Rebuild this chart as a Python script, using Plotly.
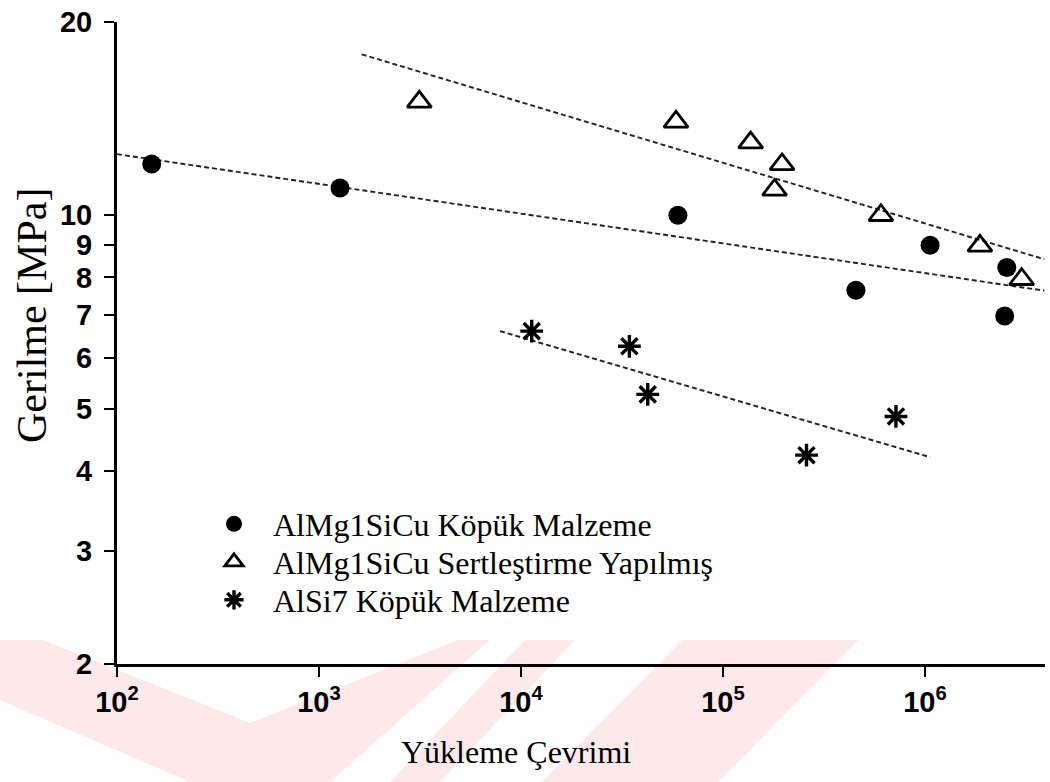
import plotly.graph_objects as go

# ---------------- data ----------------
circle_name = "AlMg1SiCu Köpük Malzeme"
circle_x = [148.5, 1271, 59.8e3, 455e3, 1.06e6, 2.54e6, 2.48e6]
circle_y = [12.02, 11.03, 10.0, 7.64, 8.98, 8.29, 6.97]

tri_name = "AlMg1SiCu Sertleştirme Yapılmış"
tri_x = [3137, 58.5e3, 137e3, 196e3, 180e3, 605e3, 1.87e6, 3.01e6]
tri_y = [15.02, 13.98, 12.98, 12.0, 10.95, 10.0, 8.96, 7.95]

star_name = "AlSi7 Köpük Malzeme"
star_x = [11.3e3, 34.4e3, 42.4e3, 718e3, 259e3]
star_y = [6.60, 6.25, 5.26, 4.86, 4.23]

# trend lines (end points)
circle_fit_x = [100, 3.9e6]
circle_fit_y = [12.45, 7.63]
tri_fit_x = [1627, 3.9e6]
tri_fit_y = [17.81, 8.54]
star_fit_x = [7870, 1.06e6]
star_fit_y = [6.60, 4.20]

x_tickvals = [1e2, 1e3, 1e4, 1e5, 1e6]
x_ticktext = ["10<sup>2</sup>", "10<sup>3</sup>", "10<sup>4</sup>", "10<sup>5</sup>", "10<sup>6</sup>"]
y_tickvals = [2, 3, 4, 5, 6, 7, 8, 9, 10, 20]
y_ticktext = ["2", "3", "4", "5", "6", "7", "8", "9", "10", "20"]

x_title = "Yükleme Çevrimi"
y_title = "Gerilme [MPa]"

# ---------------- layout geometry ----------------
W, H = 1050, 782
ML, MR, MT, MB = 117, 5, 22, 118
PW, PH = W - ML - MR, H - MT - MB


def px2paper(px, py):
    return (px - ML) / PW, 1 - (py - MT) / PH


SERIF = "Liberation Serif, Times New Roman, serif"
SANS = "Liberation Sans, Arial, sans-serif"

fig = go.Figure()

dash = "5px,3px"
for fx, fy in [(circle_fit_x, circle_fit_y), (tri_fit_x, tri_fit_y), (star_fit_x, star_fit_y)]:
    fig.add_trace(go.Scatter(x=fx, y=fy, mode="lines", showlegend=False,
                             line=dict(color="#222222", width=1.9, dash=dash),
                             hoverinfo="skip"))

fig.add_trace(go.Scatter(x=circle_x, y=circle_y, mode="markers", name=circle_name,
                         legend="legend",
                         marker=dict(symbol="circle", size=19, color="black")))
fig.add_trace(go.Scatter(x=tri_x, y=tri_y, mode="markers", name=tri_name,
                         legend="legend2",
                         marker=dict(symbol="triangle-up-open", size=21, color="black",
                                     line=dict(width=2.8, color="black"))))
fig.add_trace(go.Scatter(x=star_x, y=star_y, mode="markers", name=star_name,
                         legend="legend3",
                         marker=dict(symbol="asterisk-open", size=19, color="black",
                                     line=dict(width=3.4, color="black"))))

# watermark (pale pink diagonal bands at the bottom)
wm_polys = [
    [(0, 640), (43, 640), (250, 723), (458, 640), (490, 640), (330, 782), (190, 782), (0, 700)],
    [(525, 640), (575, 640), (440, 782), (390, 782)],
    [(682, 640), (858, 640), (718, 782), (542, 782)],
]
for poly in wm_polys:
    pts = [px2paper(px, py) for px, py in poly]
    path = "M " + " L ".join(f"{x:.4f},{y:.4f}" for x, y in pts) + " Z"
    fig.add_shape(type="path", path=path, xref="paper", yref="paper",
                  fillcolor="#fde8ea", line=dict(width=0), layer="below")

axis_common = dict(showline=True, linecolor="black", linewidth=3, mirror=False,
                   ticks="outside", ticklen=10, tickwidth=2, tickcolor="black",
                   showgrid=False, zeroline=False,
                   tickfont=dict(family=SANS, size=29, color="black", weight="bold"))

fig.update_xaxes(type="log", range=[2, 6.594], tickvals=x_tickvals, ticktext=x_ticktext,
                 ticklabelstandoff=0, **axis_common)
fig.update_yaxes(type="log", range=[0.30103, 1.30103], tickvals=y_tickvals, ticktext=y_ticktext,
                 ticklabelstandoff=6, **axis_common)

tx, ty = px2paper(516, 752)
fig.add_annotation(text=x_title, x=tx, y=ty, xref="paper", yref="paper", showarrow=False,
                   xanchor="center", yanchor="middle",
                   font=dict(family=SERIF, size=32, color="black"))
tx, ty = px2paper(32, 316)
fig.add_annotation(text=y_title, x=tx, y=ty, xref="paper", yref="paper", showarrow=False,
                   xanchor="center", yanchor="middle",
                   textangle=-90, font=dict(family=SERIF, size=42, color="black"))

legend_rows_px = [524, 562, 600]
legend_left_px = 195


def legend_cfg(row_py):
    lx, ly = px2paper(legend_left_px, row_py)
    return dict(x=lx, y=ly, xanchor="left", yanchor="middle", bgcolor="rgba(0,0,0,0)",
                borderwidth=0, font=dict(family=SERIF, size=32, color="black"),
                itemsizing="trace", itemwidth=68)


fig.update_layout(
    width=W, height=H,
    margin=dict(l=ML, r=MR, t=MT, b=MB),
    paper_bgcolor="white", plot_bgcolor="rgba(0,0,0,0)",
    font=dict(family=SERIF, color="black"),
    showlegend=True,
    legend=legend_cfg(legend_rows_px[0]),
    legend2=legend_cfg(legend_rows_px[1]),
    legend3=legend_cfg(legend_rows_px[2]),
)

fig.write_html("out.html")
